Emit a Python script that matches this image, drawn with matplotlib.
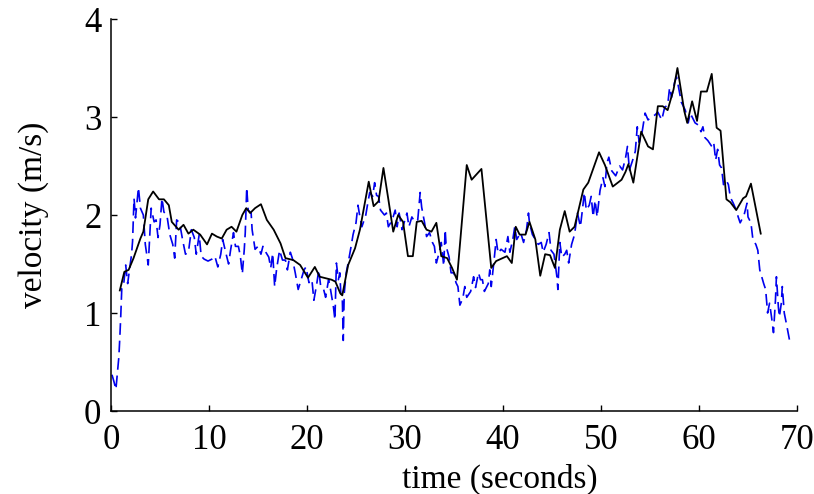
import matplotlib
matplotlib.use("Agg")
import matplotlib.pyplot as plt

# Black solid series (time s, velocity m/s)
t_black = [0.9, 1.36, 1.8, 2.3, 3.0, 3.3, 3.8, 4.3, 4.9, 5.4, 5.9, 6.2, 6.9, 7.4, 7.9, 8.4,
           9.1, 9.8, 10.3, 10.8, 11.3, 11.8, 12.3, 12.8, 13.4, 13.8, 14.2, 14.7, 15.3, 15.9,
           16.6, 17.3, 17.8, 18.6, 19.3, 20.1, 20.8, 21.3, 22.5, 22.9, 23.4, 23.6, 24.2, 24.9,
           25.4, 26.3, 26.8, 27.3, 27.8, 28.3, 28.8, 29.3, 29.8, 30.3, 30.8, 31.2, 31.7, 32.2,
           32.7, 33.2, 33.7, 34.3, 34.8, 35.3, 36.3, 36.8, 37.8, 38.8, 39.3, 40.4, 40.9, 41.3,
           41.7, 42.3, 42.7, 43.3, 43.8, 44.3, 44.8, 45.3, 45.8, 46.3, 46.8, 47.3, 48.2, 48.7,
           49.8, 50.4, 51.2, 52.1, 52.5, 52.8, 53.3, 54.1, 54.8, 55.3, 55.8, 56.3, 56.8, 57.4,
           57.8, 58.5, 58.8, 59.3, 59.8, 60.2, 60.8, 61.3, 61.8, 62.2, 62.8, 63.2, 63.8, 64.5,
           64.8, 65.3, 66.3]
v_black = [1.23, 1.42, 1.44, 1.56, 1.76, 1.83, 2.16, 2.24, 2.16, 2.16, 2.10, 1.93, 1.85, 1.90,
           1.81, 1.85, 1.80, 1.70, 1.81, 1.78, 1.76, 1.85, 1.88, 1.83, 2.00, 2.07, 2.02, 2.07,
           2.11, 1.95, 1.85, 1.71, 1.56, 1.54, 1.49, 1.36, 1.47, 1.37, 1.34, 1.32, 1.20, 1.18,
           1.49, 1.66, 1.85, 2.34, 2.09, 2.14, 2.48, 2.16, 1.83, 2.00, 1.93, 1.58, 1.58, 1.93,
           1.94, 1.85, 1.83, 1.92, 1.58, 1.56, 1.46, 1.34, 2.51, 2.36, 2.47, 1.46, 1.53, 1.58,
           1.51, 1.88, 1.80, 1.80, 1.93, 1.75, 1.38, 1.60, 1.59, 1.46, 1.85, 2.04, 1.83, 1.88,
           2.26, 2.33, 2.64, 2.51, 2.29, 2.36, 2.44, 2.52, 2.33, 2.85, 2.70, 2.67, 3.11, 3.11,
           3.07, 3.28, 3.50, 3.06, 2.94, 3.16, 2.96, 3.26, 3.26, 3.44, 2.89, 2.86, 2.16, 2.13,
           2.05, 2.17, 2.19, 2.32, 1.81]

# Blue dashed series
t_blue = [0.1, 0.3, 0.5, 0.8, 0.9, 1.0, 1.1, 1.3, 1.5, 1.7, 1.9, 2.1, 2.2, 2.35, 2.5, 2.8, 3.0,
          3.3, 3.5, 3.8, 4.1, 4.4, 4.6, 4.8, 5.0, 5.2, 5.4, 5.7, 6.0, 6.3, 6.5, 6.7, 7.0, 7.3,
          7.6, 7.9, 8.2, 8.5, 8.7, 9.0, 9.2, 9.5, 9.9, 10.3, 10.6, 10.9, 11.2, 11.4, 11.7, 12.0,
          12.2, 12.5, 12.7, 13.0, 13.2, 13.4, 13.6, 13.7, 13.85, 14.0, 14.3, 14.4, 14.7, 15.0,
          15.3, 15.5, 15.8, 16.1, 16.3, 16.5, 16.7, 16.9, 17.2, 17.5, 17.8, 18.0, 18.3, 18.5,
          18.8, 19.1, 19.4, 19.7, 19.9, 20.2, 20.5, 20.7, 21.0, 21.2, 21.4, 21.7, 21.9, 22.2,
          22.4, 22.7, 22.85, 23.0, 23.2, 23.35, 23.45, 23.6, 23.7, 23.8, 24.0, 24.2, 24.5, 24.7,
          25.0, 25.2, 25.4, 25.6, 26.0, 26.2, 26.4, 26.7, 26.9, 27.1, 27.3, 27.5, 27.9, 28.1,
          28.3, 28.7, 29.0, 29.2, 29.4, 29.7, 30.0, 30.2, 30.4, 30.7, 31.0, 31.3, 31.55, 31.7,
          32.0, 32.2, 32.5, 32.8, 33.0, 33.2, 33.5, 33.7, 33.85, 33.95, 34.1, 34.2, 34.5, 34.7,
          35.0, 35.2, 35.4, 35.6, 35.9, 36.1, 36.3, 36.7, 37.0, 37.2, 37.5, 37.7, 37.9, 38.1,
          38.5, 38.65, 38.8, 39.1, 39.3, 39.5, 39.8, 40.2, 40.5, 40.7, 41.0, 41.2, 41.4, 41.8,
          42.1, 42.4, 42.6, 42.7, 43.0, 43.3, 43.6, 43.9, 44.1, 44.4, 44.7, 44.9, 45.2, 45.5,
          45.6, 45.8, 46.0, 46.3, 46.5, 46.7, 47.0, 47.3, 47.6, 47.9, 48.1, 48.3, 48.5, 48.8,
          49.0, 49.2, 49.4, 49.6, 49.9, 50.2, 50.4, 50.6, 50.8, 51.1, 51.5, 51.9, 52.2, 52.5,
          52.7, 52.9, 53.2, 53.5, 53.7, 53.9, 54.2, 54.5, 54.8, 55.1, 55.5, 55.8, 56.2, 56.5,
          56.8, 57.0, 57.2, 57.5, 57.7, 57.9, 58.2, 58.6, 58.9, 59.1, 59.4, 59.6, 59.9, 60.2,
          60.4, 60.6, 60.9, 61.3, 61.5, 61.7, 61.9, 62.1, 62.3, 62.5, 62.8, 63.0, 63.2, 63.5,
          63.8, 64.0, 64.2, 64.6, 64.9, 65.0, 65.3, 65.5, 65.8, 66.0, 66.2, 66.6, 66.8, 67.0,
          67.2, 67.4, 67.6, 67.8, 67.9, 68.1, 68.2, 68.4, 68.5, 68.7, 68.9, 69.3]
v_blue = [0.37, 0.30, 0.22, 0.55, 0.75, 0.98, 1.25, 1.30, 1.49, 1.30, 1.45, 1.60, 1.73, 2.17,
          1.97, 2.28, 2.07, 2.00, 1.70, 1.49, 2.07, 1.93, 1.95, 1.77, 1.90, 2.17, 2.03, 2.00,
          1.80, 1.70, 1.56, 1.95, 1.92, 1.75, 1.60, 1.62, 1.85, 1.77, 1.60, 1.80, 1.58, 1.55,
          1.53, 1.55, 1.58, 1.47, 1.60, 1.75, 1.62, 1.50, 1.64, 1.82, 1.68, 1.68, 1.58, 1.40,
          1.65, 1.82, 2.28, 2.05, 2.02, 1.85, 1.65, 1.68, 1.60, 1.68, 1.62, 1.57, 1.46, 1.61,
          1.27, 1.45, 1.64, 1.54, 1.54, 1.44, 1.62, 1.56, 1.41, 1.24, 1.34, 1.44, 1.47, 1.31,
          1.34, 1.13, 1.30, 1.44, 1.27, 1.24, 1.16, 1.34, 1.24, 1.06, 0.93, 1.51, 1.34, 1.41,
          1.20, 1.16, 0.72, 1.20, 1.41, 1.51, 1.68, 1.80, 1.92, 2.10, 1.98, 1.88, 2.00, 2.12,
          2.23, 2.19, 2.33, 2.20, 2.19, 2.05, 2.00, 2.02, 1.88, 1.95, 2.05, 1.88, 2.02, 1.85,
          1.95, 2.02, 1.88, 1.98, 1.93, 1.95, 2.23, 2.08, 1.92, 1.78, 1.82, 1.72, 1.68, 1.51,
          1.62, 1.72, 1.57, 1.48, 1.85, 1.68, 1.57, 1.41, 1.41, 1.31, 1.27, 1.08, 1.15, 1.27,
          1.16, 1.22, 1.37, 1.26, 1.41, 1.34, 1.34, 1.22, 1.30, 1.44, 1.27, 1.55, 1.75, 1.61,
          1.65, 1.62, 1.78, 1.62, 1.75, 1.88, 1.75, 1.82, 1.72, 1.85, 2.02, 1.92, 1.80, 1.75,
          1.70, 1.72, 1.62, 1.70, 1.82, 1.64, 1.60, 1.37, 1.24, 1.72, 1.57, 1.60, 1.64, 1.51,
          1.70, 1.80, 2.02, 1.88, 2.05, 2.23, 2.05, 2.10, 2.19, 1.98, 2.15, 1.98, 2.25, 2.38,
          2.29, 2.53, 2.59, 2.45, 2.40, 2.50, 2.46, 2.58, 2.70, 2.46, 2.55, 2.65, 2.90, 2.74,
          2.85, 3.04, 2.97, 3.00, 3.02, 3.05, 2.97, 3.10, 3.12, 3.30, 3.20, 3.35, 3.41, 3.31,
          3.15, 3.07, 2.94, 3.04, 2.98, 2.94, 2.92, 2.85, 2.90, 2.79, 2.76, 2.70, 2.74, 2.56,
          2.67, 2.51, 2.48, 2.31, 2.35, 2.31, 2.18, 2.12, 2.05, 1.98, 1.92, 2.00, 2.12, 1.98,
          1.92, 1.75, 1.70, 1.64, 1.44, 1.30, 1.24, 1.00, 1.10, 0.96, 0.80, 1.13, 1.37, 1.06,
          0.96, 1.10, 1.27, 1.00, 0.90, 0.69]

x_ticks = [0, 10, 20, 30, 40, 50, 60, 70]
y_ticks = [0, 1, 2, 3, 4]

plt.rcParams['font.family'] = ['Liberation Serif', 'DejaVu Serif']

fig = plt.figure(figsize=(8.14, 4.94), dpi=100)
ax = fig.add_axes([111/814, 83/494, 686/814, 392/494])

ax.plot(t_blue, v_blue, color='#0000ee', lw=1.2, linestyle=(0, (7, 3.5)))
ax.plot(t_black, v_black, color='black', lw=1.3)

ax.set_xlim(0, 70)
ax.set_ylim(0, 4)
ax.set_xticks(x_ticks)
ax.set_yticks(y_ticks)
ax.spines['top'].set_visible(False)
ax.spines['right'].set_visible(False)
for s in ('left', 'bottom'):
    ax.spines[s].set_linewidth(1.1)
ax.tick_params(direction='in', length=4, width=1.0, labelsize=25)
ax.tick_params(axis='x', pad=9)
ax.tick_params(axis='y', pad=7)

ax.set_xlabel('time (seconds)', fontsize=24)
ax.xaxis.set_label_coords(0.567, -0.135)
ax.set_ylabel('velocity (m/s)', fontsize=24)
ax.yaxis.set_label_coords(-0.09, 0.5)

fig.savefig('out.png', dpi=100)
